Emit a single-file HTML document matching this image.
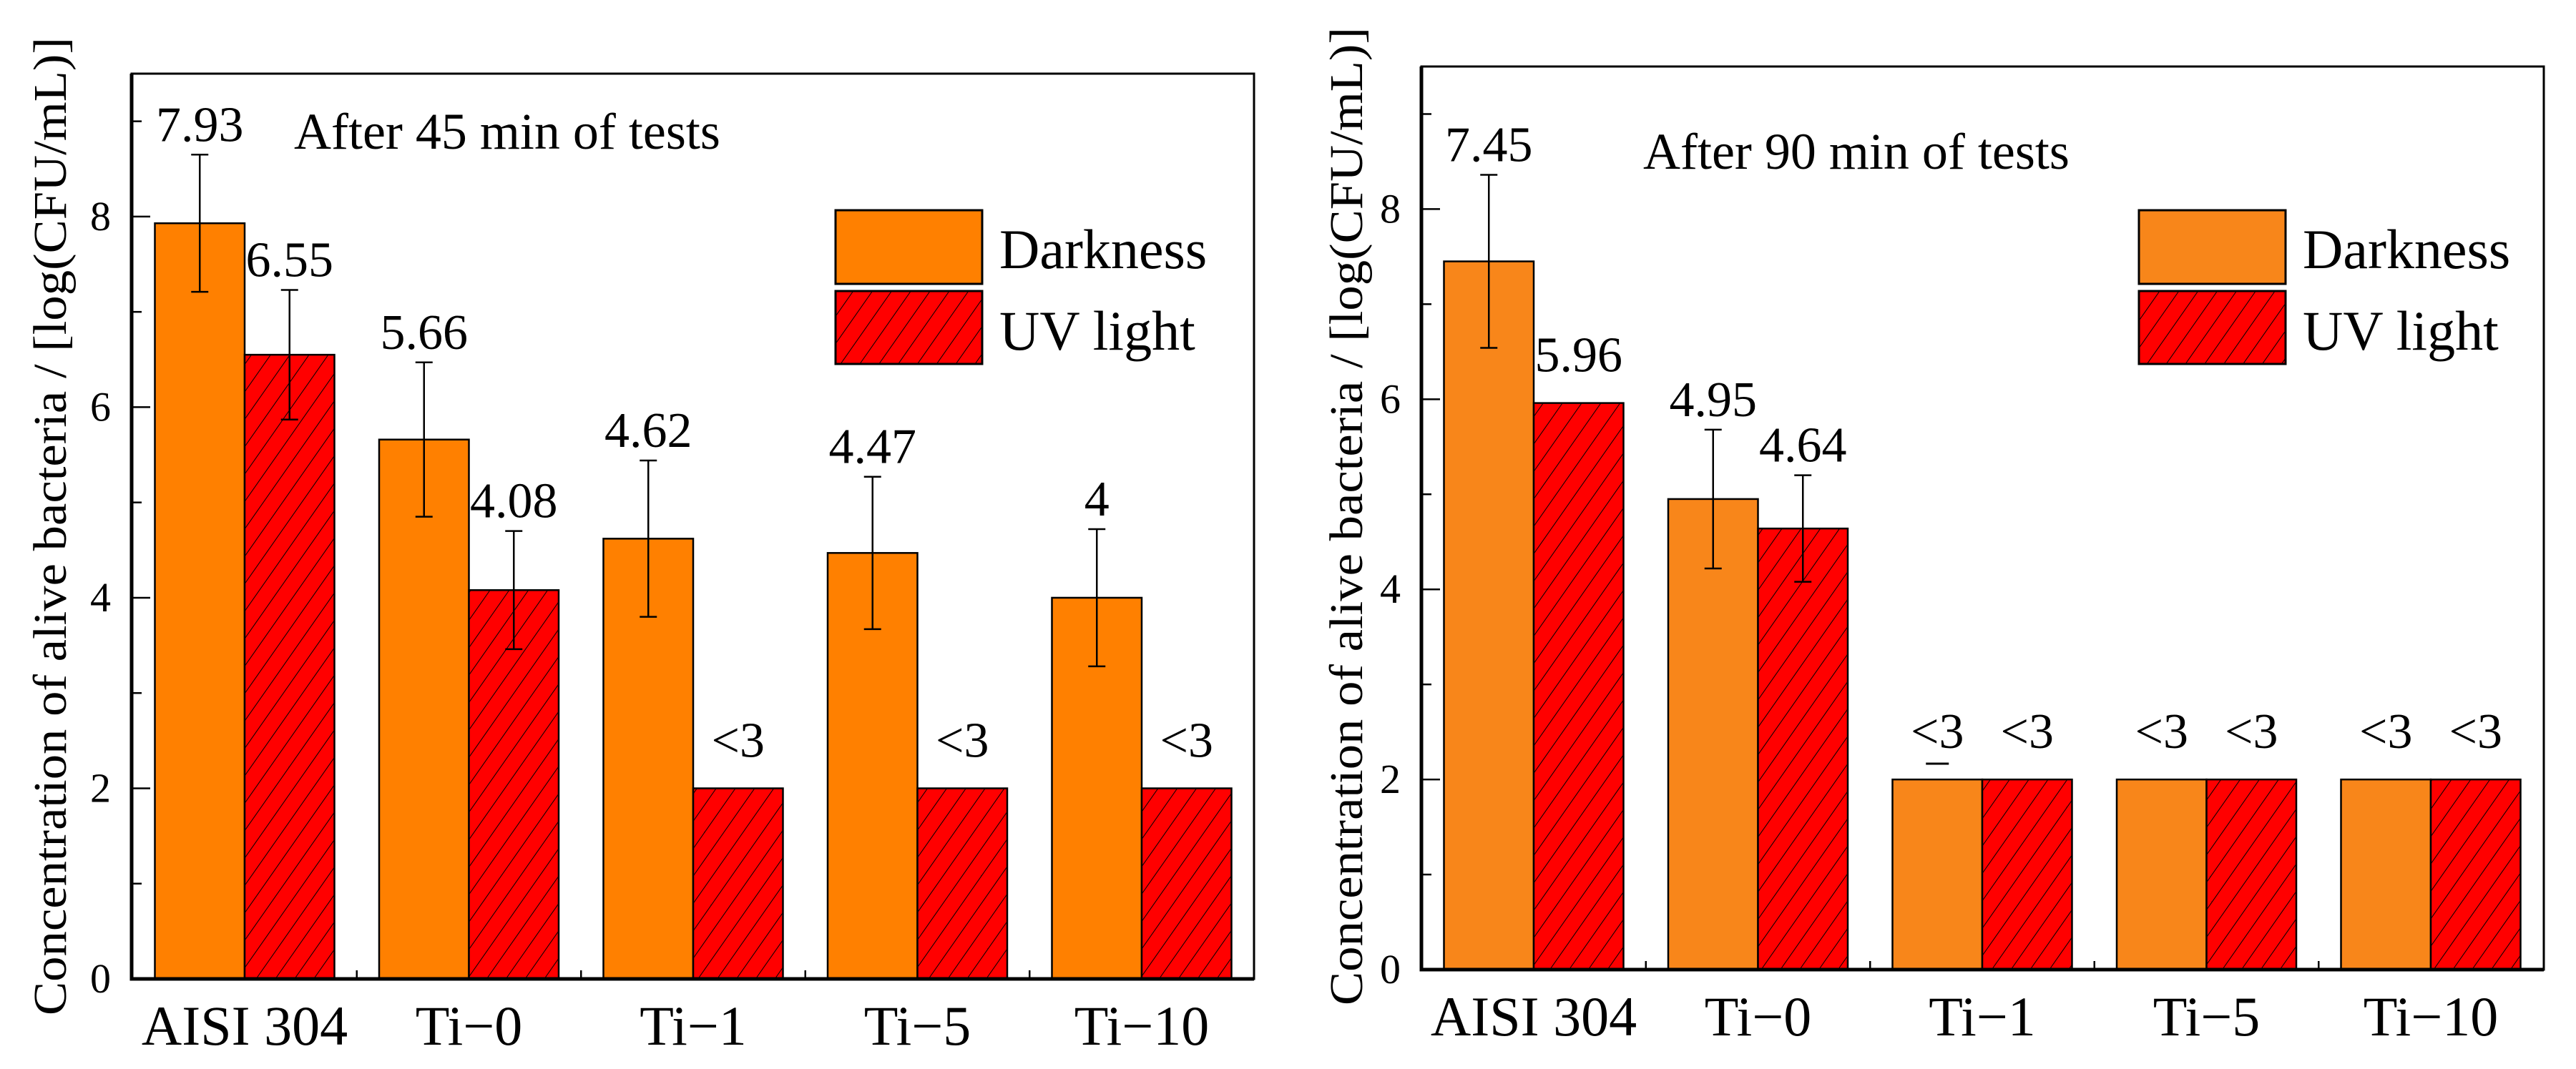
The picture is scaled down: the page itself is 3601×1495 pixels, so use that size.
<!DOCTYPE html>
<html><head><meta charset="utf-8"><style>
html,body{margin:0;padding:0;background:#fff;}
svg{display:block;}
text{font-family:"Liberation Serif","Times New Roman","DejaVu Serif","Noto Serif CJK SC",serif;}
</style></head><body>
<svg id="chart" width="3601" height="1495" viewBox="0 0 3601 1495" xmlns="http://www.w3.org/2000/svg">
<defs>
<pattern id="hatch" patternUnits="userSpaceOnUse" width="22" height="22" patternTransform="rotate(-55)">
<rect width="22" height="22" fill="#ff0000"/>
<line x1="0" y1="0" x2="22" y2="0" stroke="#000" stroke-width="2"/>
</pattern>
</defs>
</svg>
<script>
const categories = ["AISI 304","Ti\u22120","Ti\u22121","Ti\u22125","Ti\u221210"];
const yTicks = [0,2,4,6,8];
const dark45 = [7.93,5.66,4.62,4.47,4.0];
const dark45Err = [0.72,0.81,0.82,0.80,0.72];
const dark45Labels = ["7.93","5.66","4.62","4.47","4"];
const uv45 = [6.55,4.08,2,2,2];
const uv45Err = [0.68,0.62,0,0,0];
const uv45Labels = ["6.55","4.08","<3","<3","<3"];
const dark90 = [7.45,4.95,2,2,2];
const dark90Err = [0.91,0.73,0,0,0];
const dark90Labels = ["7.45","4.95","<3","<3","<3"];
const uv90 = [5.96,4.64,2,2,2];
const uv90Err = [0,0.56,0,0,0];
const uv90Labels = ["5.96","4.64","<3","<3","<3"];

const NS="http://www.w3.org/2000/svg";
const svg=document.getElementById('chart');
function el(tag,attrs,parent,text){
  const e=document.createElementNS(NS,tag);
  for(const k in attrs) e.setAttribute(k,attrs[k]);
  if(text!==undefined) e.textContent=text;
  (parent||svg).appendChild(e);
  return e;
}
function drawPanel(p){
  const g=el('g',{});
  
  
  const yMax=9.5;
  const y=v=>p.y0-(v/yMax)*(p.y0-p.top);
  const step=313.5, bw=125.5;
  const cx=i=>p.c0+i*step;
  categories.forEach((c,i)=>{
    const dr=el('rect',{x:cx(i)-bw,y:y(p.dark[i]),width:bw,height:p.y0-y(p.dark[i]),fill:p.orange,stroke:'#000','stroke-width':2.5},g);
    
    
    const ur=el('rect',{x:cx(i),y:y(p.uv[i]),width:bw,height:p.y0-y(p.uv[i]),fill:'url(#hatch)',stroke:'#000','stroke-width':2.5},g);
    
    
    [[p.dark,p.darkErr,p.darkLab,cx(i)-bw/2,'darkness'],[p.uv,p.uvErr,p.uvLab,cx(i)+bw/2,'uv']].forEach(([vals,errs,labs,x,s])=>{
      let topY=y(vals[i]);
      if(errs[i]>0){
        const e1=y(vals[i]+errs[i]), e2=y(vals[i]-errs[i]);
        const eb=el('path',{d:`M${x},${e1}V${e2}M${x-12},${e1}H${x+12}M${x-12},${e2}H${x+12}`,stroke:'#000','stroke-width':2.5,fill:'none'},g);
        
        
        topY=e1;
      }
      const gap=errs[i]>0?19:44;
      const t=el('text',{x:x,y:topY-gap,'font-size':70,'text-anchor':'middle',fill:'#000'},g,labs[i]);
      
      
    });
    const xl=el('text',{x:cx(i),y:p.y0+92,'font-size':78,'text-anchor':'middle',fill:'#000'},g,c);
    
    
    if(i>0){
      const xt=el('line',{x1:cx(i)-step/2,x2:cx(i)-step/2,y1:p.y0,y2:p.y0-12,stroke:'#000','stroke-width':2.5},g);
      
      
    }
  });
  for(let v=1;v<=9;v++){
    const major=v%2===0;
    const t=el('line',{x1:p.left,x2:p.left+(major?26:14),y1:y(v),y2:y(v),stroke:'#000','stroke-width':2.5},g);
    
    
  }
  yTicks.forEach(v=>{
    const t=el('text',{x:p.left-29,y:y(v)+19,'font-size':58,'text-anchor':'end',fill:'#000'},g,String(v));
    
    
  });
  const fr=el('rect',{x:p.left,y:p.top,width:p.right-p.left,height:p.y0-p.top,fill:'none',stroke:'#000','stroke-width':3},g);
  
  
  const ax=el('path',{d:`M${p.left},${p.top}V${p.y0}H${p.right}`,fill:'none',stroke:'#000','stroke-width':5},g);
  
  
  const yt=el('text',{x:0,y:0,'font-size':66,'text-anchor':'middle',textLength:1368,lengthAdjust:'spacingAndGlyphs',transform:`translate(${p.titleX},${p.titleY}) rotate(-90)`,fill:'#000'},g,'Concentration of alive bacteria / [log(CFU/mL)]');
  
  
  const an=el('text',{x:p.annX,y:p.annY,'font-size':72,fill:'#000'},g,p.ann);
  
  
  const l1=el('rect',{x:p.legX,y:294,width:205,height:103,fill:p.orange,stroke:'#000','stroke-width':3},g);
  
  
  const l2=el('rect',{x:p.legX,y:407,width:205,height:102,fill:'url(#hatch)',stroke:'#000','stroke-width':3},g);
  
  
  const lt1=el('text',{x:p.legX+229,y:375,'font-size':78,fill:'#000'},g,'Darkness');
  
  
  const lt2=el('text',{x:p.legX+229,y:489,'font-size':78,fill:'#000'},g,'UV light');
  
  
  if(p.extraDash){
    const d=el('line',{x1:cx(2)-bw/2-16,x2:cx(2)-bw/2+16,y1:1068,y2:1068,stroke:'#000','stroke-width':3},g);
    
    
  }
}
drawPanel({name:'panel-45min',left:184,right:1753,top:103,y0:1369,c0:342,orange:'#ff8000',
  dark:dark45,darkErr:dark45Err,darkLab:dark45Labels,uv:uv45,uvErr:uv45Err,uvLab:uv45Labels,
  titleX:92,titleY:736,annX:411,annY:208,ann:'After 45 min of tests',legX:1168});
drawPanel({name:'panel-90min',left:1987,right:3556,top:93,y0:1356,c0:2144,orange:'#f8861a',
  dark:dark90,darkErr:dark90Err,darkLab:dark90Labels,uv:uv90,uvErr:uv90Err,uvLab:uv90Labels,
  titleX:1904,titleY:722,annX:2297,annY:236,ann:'After 90 min of tests',legX:2990,extraDash:true});
</script>
</body></html>
